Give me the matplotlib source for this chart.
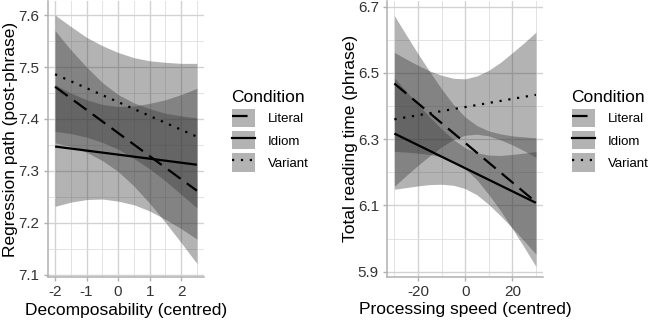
import matplotlib
matplotlib.use('Agg')
import matplotlib.pyplot as plt
from matplotlib.lines import Line2D
from matplotlib.patches import Patch

plt.rcParams['font.family'] = ['Liberation Sans', 'DejaVu Sans']

# ---------------- data ----------------
conditions = ['Literal', 'Idiom', 'Variant']

# Left panel: Decomposability
left_x = [-2, -1.5, -1, -0.5, 0, 0.5, 1, 1.5, 2, 2.5]
left_line_x = [-2, 2.5]
left_lit_line = [7.462, 7.262]
left_idi_line = [7.347, 7.312]
left_var_line = [7.486, 7.366]
left_lit_lo = [7.354, 7.347, 7.336, 7.320, 7.299, 7.271, 7.238, 7.201, 7.162, 7.122]
left_lit_hi = [7.570, 7.533, 7.500, 7.470, 7.447, 7.431, 7.420, 7.411, 7.406, 7.402]
left_idi_lo = [7.232, 7.240, 7.245, 7.246, 7.242, 7.235, 7.223, 7.207, 7.189, 7.169]
left_idi_hi = [7.466, 7.450, 7.437, 7.428, 7.424, 7.425, 7.430, 7.437, 7.447, 7.459]
left_var_lo = [7.376, 7.372, 7.365, 7.355, 7.342, 7.324, 7.304, 7.281, 7.255, 7.229]
left_var_hi = [7.600, 7.578, 7.557, 7.541, 7.528, 7.518, 7.512, 7.509, 7.507, 7.507]
left_xticks = [-2, -1, 0, 1, 2]
left_xticklabels = ['-2', '-1', '0', '1', '2']
left_yticks = [7.1, 7.2, 7.3, 7.4, 7.5, 7.6]
left_yticklabels = ['7.1', '7.2', '7.3', '7.4', '7.5', '7.6']

# Right panel: Processing speed
right_x = [-30, -25, -20, -15, -10, -5, 0, 5, 10, 15, 20, 25, 30]
right_line_x = [-30, 30]
right_lit_line = [6.468, 6.110]
right_idi_line = [6.317, 6.108]
right_var_line = [6.360, 6.434]
right_lit_lo = [6.263, 6.261, 6.258, 6.254, 6.246, 6.233, 6.211, 6.177, 6.133, 6.084, 6.030, 5.974, 5.916]
right_lit_hi = [6.673, 6.615, 6.558, 6.504, 6.452, 6.405, 6.367, 6.341, 6.325, 6.316, 6.310, 6.307, 6.304]
right_idi_lo = [6.149, 6.154, 6.159, 6.163, 6.164, 6.161, 6.151, 6.132, 6.103, 6.069, 6.032, 5.993, 5.953]
right_idi_hi = [6.485, 6.445, 6.405, 6.367, 6.331, 6.299, 6.274, 6.259, 6.252, 6.251, 6.254, 6.258, 6.263]
right_var_lo = [6.158, 6.190, 6.221, 6.250, 6.277, 6.299, 6.312, 6.315, 6.310, 6.298, 6.283, 6.265, 6.245]
right_var_hi = [6.562, 6.542, 6.523, 6.506, 6.493, 6.484, 6.482, 6.491, 6.508, 6.532, 6.561, 6.591, 6.623]
right_xticks = [-20, 0, 20]
right_xticklabels = ['-20', '0', '20']
right_yticks = [5.9, 6.1, 6.3, 6.5, 6.7]
right_yticklabels = ['5.9', '6.1', '6.3', '6.5', '6.7']

# ---------------- style ----------------
RIB = '#333333'
ALPHA = 0.37
GRID_MAJ = '#d2d2d2'
GRID_MIN = '#dedede'
AXC = '#b0b0b0'
LW = 1.6
LS = {'Literal': (0, (7, 3.5)), 'Idiom': '-', 'Variant': (0, (1, 3))}

fig = plt.figure(figsize=(6.49, 3.20), dpi=100)
axL = fig.add_axes([48 / 649, 43 / 320, 156 / 649, 276 / 320])
axR = fig.add_axes([387.3 / 649, 43.3 / 320, 155.7 / 649, 276 / 320])


def style(ax, xlim, ylim, xmaj, xmin, ymaj, ymin, xl, yl, xlabel, ylabel, ylx):
    ax.set_xlim(*xlim)
    ax.set_ylim(*ylim)
    ax.set_xticks(xmaj)
    ax.set_xticks(xmin, minor=True)
    ax.set_yticks(ymaj)
    ax.set_yticks(ymin, minor=True)
    ax.set_xticklabels(xl)
    ax.set_yticklabels(yl)
    ax.grid(which='major', color=GRID_MAJ, lw=1.0)
    ax.grid(which='minor', color=GRID_MIN, lw=0.6)
    ax.set_axisbelow(True)
    for s in ['top', 'right']:
        ax.spines[s].set_visible(False)
    for s in ['left', 'bottom']:
        ax.spines[s].set_color(AXC)
        ax.spines[s].set_linewidth(1.1)
    ax.tick_params(which='major', length=3, color=AXC, width=1.0,
                   labelsize=11, labelcolor='#333333', pad=3)
    ax.tick_params(which='minor', length=0)
    ax.set_xlabel(xlabel, fontsize=12.5)
    ax.set_ylabel(ylabel, fontsize=12.5)
    ax.xaxis.set_label_coords(0.5, -0.093)
    ax.yaxis.set_label_coords(ylx, 0.5)


def draw(ax, x, lx, bands, lines):
    for lo, hi in bands:
        ax.fill_between(x, lo, hi, color=RIB, alpha=ALPHA, lw=0)
    for name, y in zip(conditions, lines):
        ax.plot(lx, y, color='black', lw=LW, ls=LS[name],
                solid_capstyle='butt', dash_capstyle='butt')


draw(axL, left_x, left_line_x,
     [(left_lit_lo, left_lit_hi), (left_idi_lo, left_idi_hi), (left_var_lo, left_var_hi)],
     [left_lit_line, left_idi_line, left_var_line])
style(axL, (-2.225, 2.725), (7.096, 7.627),
      left_xticks, [-1.5, -0.5, 0.5, 1.5, 2.5],
      left_yticks, [7.15, 7.25, 7.35, 7.45, 7.55],
      left_xticklabels, left_yticklabels,
      'Decomposability (centred)', 'Regression path (post-phrase)', -0.19)

draw(axR, right_x, right_line_x,
     [(right_lit_lo, right_lit_hi), (right_idi_lo, right_idi_hi), (right_var_lo, right_var_hi)],
     [right_lit_line, right_idi_line, right_var_line])
style(axR, (-33, 33), (5.885, 6.718),
      right_xticks, [-30, -10, 10, 30],
      right_yticks, [6.0, 6.2, 6.4, 6.6],
      right_xticklabels, right_yticklabels,
      'Processing speed (centred)', 'Total reading time (phrase)', -0.185)


def legend(x_px, y_px):
    handles = []
    for name in conditions:
        p = Patch(facecolor=RIB, alpha=ALPHA, edgecolor='none')
        l = Line2D([], [], color='black', lw=LW, ls=LS[name])
        handles.append((p, l))
    fig.legend(handles, conditions, title='Condition', loc='upper left',
               bbox_to_anchor=(x_px / 649, 1 - y_px / 320), frameon=False,
               fontsize=9.5, title_fontsize=12.5, handlelength=1.8,
               handleheight=1.75, labelspacing=0.3, handletextpad=0.95,
               borderpad=0, borderaxespad=0, alignment='left')


legend(231.5, 90)
legend(571.5, 90)

fig.savefig('out.png', dpi=100)
